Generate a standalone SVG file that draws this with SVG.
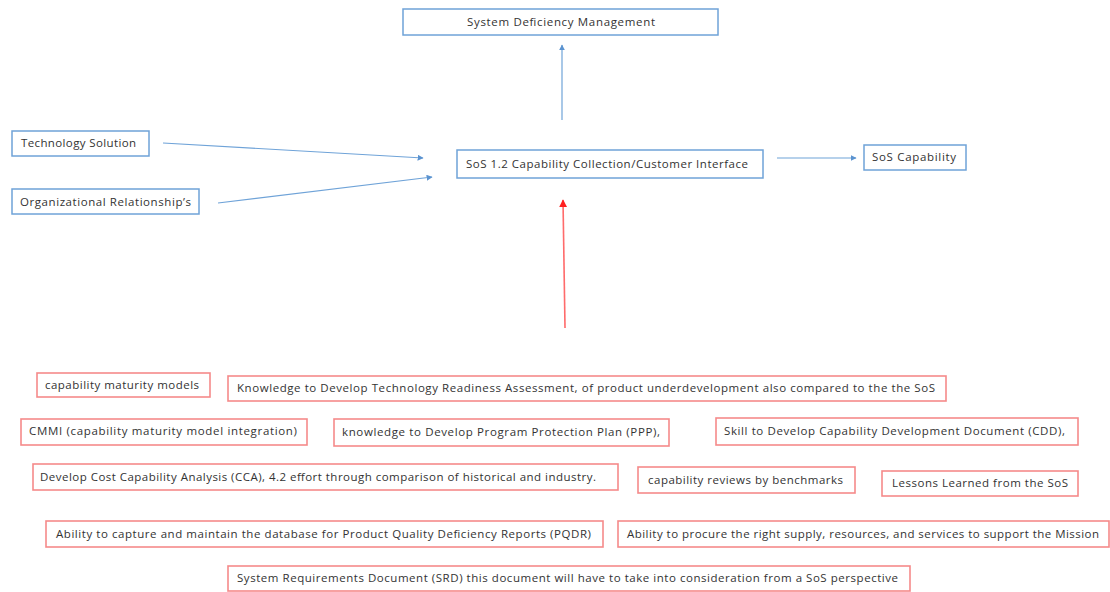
<svg xmlns="http://www.w3.org/2000/svg" width="1110" height="592" viewBox="0 0 1110 592">
  <defs>
    <style>
      .bg { fill: #ffffff; }
      .blue { fill: #ffffff; stroke: #6fa3d8; stroke-width: 1.5; }
      .red { fill: #ffffff; stroke: #f58a8a; stroke-width: 1.6; }
      .t { font-family: "Open Sans", "Liberation Sans", sans-serif; font-size: 11.5px; fill: #333333; }
      .lb { stroke: #6fa3d8; stroke-width: 1.2; fill: none; }
      .lr { stroke: #ff6b6b; stroke-width: 1.6; fill: none; }
    </style>
    <marker id="ab" viewBox="0 0 10 10" refX="9" refY="5" markerWidth="6" markerHeight="6" orient="auto" markerUnits="userSpaceOnUse">
      <path d="M0,0 L10,5 L0,10 z" fill="#5b93d0"/>
    </marker>
    <marker id="ar" viewBox="0 0 10 10" refX="9" refY="5" markerWidth="8" markerHeight="8" orient="auto" markerUnits="userSpaceOnUse">
      <path d="M0,0 L10,5 L0,10 z" fill="#ff2020"/>
    </marker>
  </defs>
  <rect class="bg" x="0" y="0" width="1110" height="592"/>

  <!-- connectors -->
  <g id="connectors">
    <line class="lb" x1="562" y1="120" x2="562" y2="45" marker-end="url(#ab)"/>
    <line class="lb" x1="163" y1="143" x2="423" y2="158" marker-end="url(#ab)"/>
    <line class="lb" x1="218" y1="203" x2="432" y2="177" marker-end="url(#ab)"/>
    <line class="lb" x1="777" y1="158" x2="856" y2="158" marker-end="url(#ab)"/>
    <line class="lr" x1="565" y1="328" x2="563" y2="200" marker-end="url(#ar)"/>
  </g>

  <!-- upper nodes -->
  <g id="system-deficiency-management">
    <rect class="blue" x="403" y="9" width="315" height="26"/>
    <text class="t" x="467" y="26" textLength="188">System Deficiency Management</text>
  </g>
  <g id="technology-solution">
    <rect class="blue" x="12" y="131" width="137" height="25"/>
    <text class="t" x="21" y="147" textLength="115">Technology Solution</text>
  </g>
  <g id="organizational-relationships">
    <rect class="blue" x="12" y="189" width="187" height="25"/>
    <text class="t" x="20" y="206" textLength="171">Organizational Relationship’s</text>
  </g>
  <g id="capability-collection">
    <rect class="blue" x="457" y="150" width="306" height="28"/>
    <text class="t" x="466" y="168" textLength="282">SoS 1.2 Capability Collection/Customer Interface</text>
  </g>
  <g id="sos-capability">
    <rect class="blue" x="864" y="145" width="102" height="25"/>
    <text class="t" x="872" y="161" textLength="84">SoS Capability</text>
  </g>

  <!-- contributing items -->
  <g id="cmm">
    <rect class="red" x="37" y="373" width="173" height="24"/>
    <text class="t" x="45" y="389" textLength="154">capability maturity models</text>
  </g>
  <g id="tra">
    <rect class="red" x="228" y="376" width="718" height="25"/>
    <text class="t" x="237" y="392" textLength="698">Knowledge to Develop Technology Readiness Assessment, of product  underdevelopment  also compared to the the SoS</text>
  </g>
  <g id="cmmi">
    <rect class="red" x="21" y="419" width="286" height="26"/>
    <text class="t" x="29" y="435" textLength="268">CMMI (capability maturity  model  integration)</text>
  </g>
  <g id="ppp">
    <rect class="red" x="334" y="419" width="335" height="27"/>
    <text class="t" x="342" y="436" textLength="318">knowledge to Develop Program Protection Plan (PPP),</text>
  </g>
  <g id="cdd">
    <rect class="red" x="716" y="418" width="362" height="27"/>
    <text class="t" x="724" y="435" textLength="341">Skill to Develop Capability Development Document (CDD),</text>
  </g>
  <g id="cca">
    <rect class="red" x="33" y="464" width="585" height="26"/>
    <text class="t" x="40" y="481" textLength="556">Develop Cost Capability Analysis (CCA), 4.2 effort through  comparison of historical and industry.</text>
  </g>
  <g id="benchmarks">
    <rect class="red" x="638" y="467" width="217" height="26"/>
    <text class="t" x="648" y="484" textLength="195">capability reviews by benchmarks</text>
  </g>
  <g id="lessons">
    <rect class="red" x="882" y="471" width="196" height="25"/>
    <text class="t" x="892" y="487" textLength="176">Lessons Learned from the SoS</text>
  </g>
  <g id="pqdr">
    <rect class="red" x="46" y="521" width="557" height="26"/>
    <text class="t" x="56" y="538" textLength="535">Ability to capture and maintain the  database for Product  Quality Deficiency Reports (PQDR)</text>
  </g>
  <g id="procure">
    <rect class="red" x="618" y="521" width="491" height="26"/>
    <text class="t" x="627" y="538" textLength="472">Ability to procure the right supply, resources, and services to support the Mission</text>
  </g>
  <g id="srd">
    <rect class="red" x="228" y="566" width="682" height="25"/>
    <text class="t" x="237" y="582" textLength="661">System Requirements Document  (SRD) this document  will have to take into consideration from a SoS perspective</text>
  </g>
</svg>
